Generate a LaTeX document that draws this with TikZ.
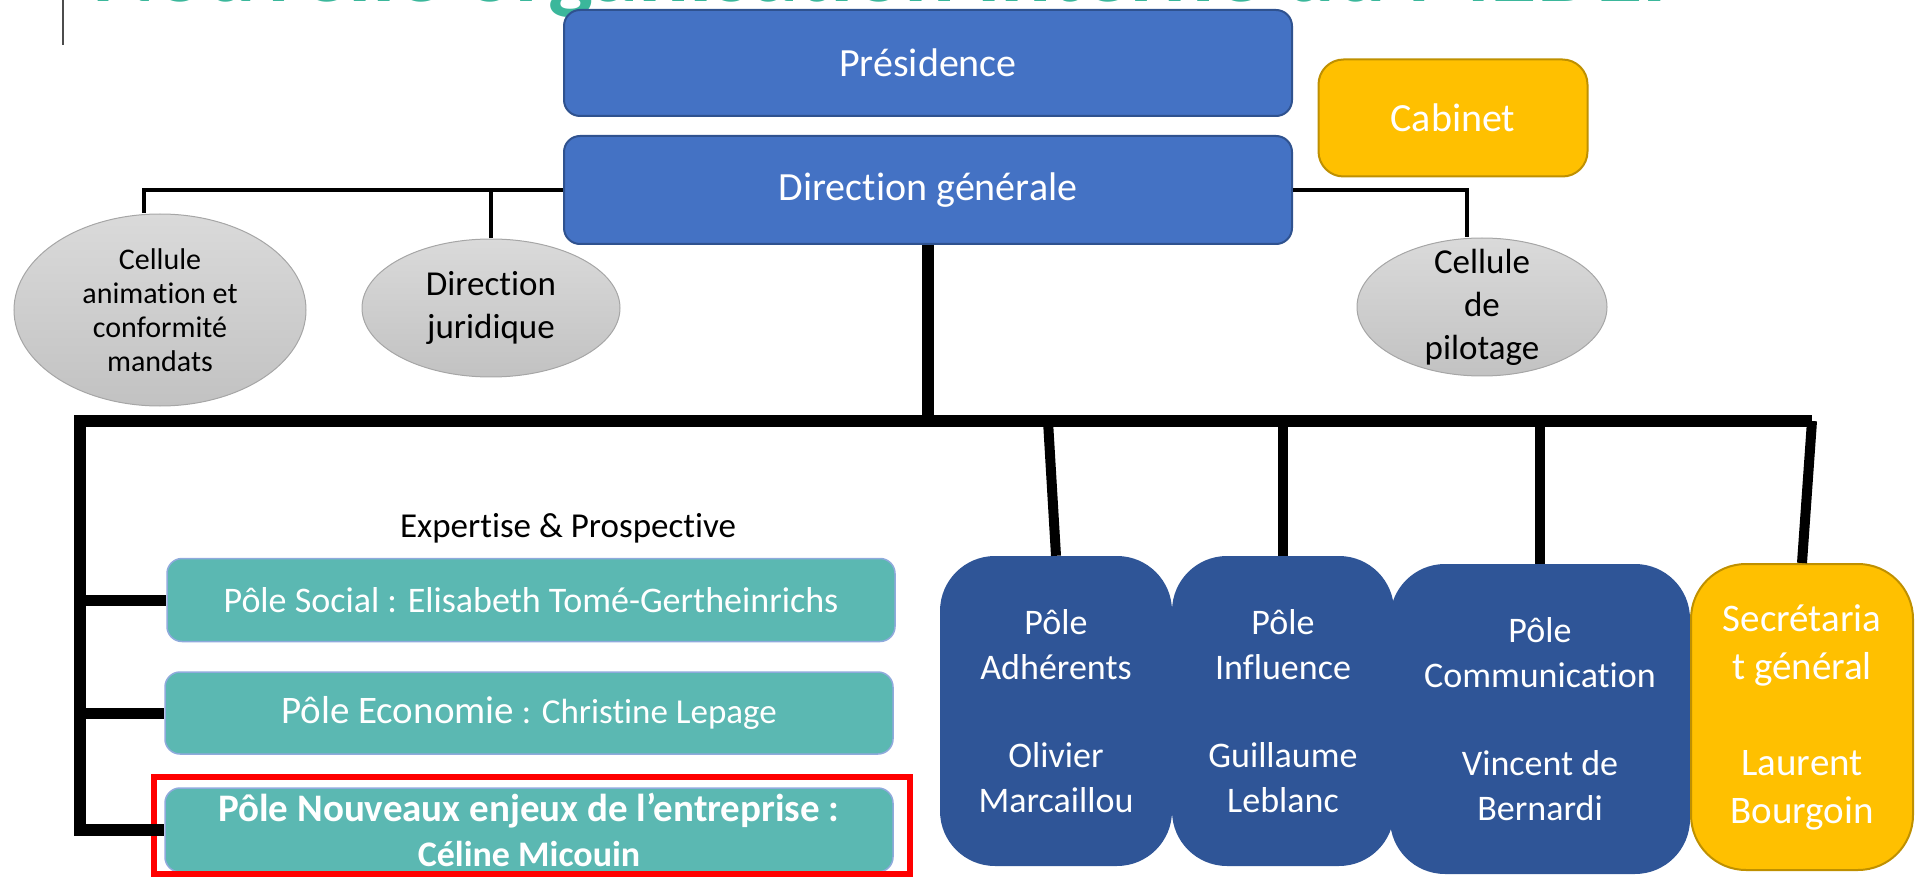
\documentclass[tikz,border=0pt]{standalone}
\usepackage{fontspec}
\setmainfont{Carlito}[Ligatures=NoCommon]
\usetikzlibrary{shapes.geometric}
\definecolor{headblue}{HTML}{4472C4}
\definecolor{headline}{HTML}{2F528F}
\definecolor{poleblue}{HTML}{2F5597}
\definecolor{goldfill}{HTML}{FFC000}
\definecolor{goldline}{HTML}{BF9000}
\definecolor{tealfill}{HTML}{5BB8B2}
\definecolor{tealline}{HTML}{8FAADC}
\definecolor{cellhi}{HTML}{DADADA}
\definecolor{celllo}{HTML}{C2C2C2}
\definecolor{cellline}{HTML}{A6A6A6}
\definecolor{titlegreen}{HTML}{3BB79B}
\tikzset{
  {head box/.style} ={rectangle, draw=headline, line width=2pt, fill=headblue,
                      rounded corners=16pt, text=white, inner sep=0,
                      minimum width=728pt, font=\fontsize{40}{48}\selectfont},
  {gold box/.style} ={rectangle, draw=goldline, line width=2pt, fill=goldfill,
                      text=white, inner sep=0, align=center},
  {cell/.style} ={ellipse, draw=cellline, line width=1pt, top color=cellhi,
                  bottom color=celllo, inner sep=0},
  {cell text/.style} ={align=center, text=black, inner sep=0},
  {expert box/.style} ={rectangle, draw=tealline, line width=1.5pt, fill=tealfill,
                  rounded corners=15pt, text=white, inner sep=0, align=center,
                  minimum width=728pt, font=\fontsize{36}{44}\selectfont},
  {pole box/.style} ={rectangle, fill=poleblue, rounded corners=55pt, text=white,
                  inner sep=0, align=center, font=\fontsize{36}{44.5}\selectfont},
  {thin link/.style} ={draw, line width=4.5pt},
  {bus/.style} ={draw, line width=12pt},
  {drop/.style} ={draw, line width=10pt},
  {stub/.style} ={draw, line width=11pt},
  {highlight/.style} ={draw=red, line width=6pt},
}

\begin{document}
\begin{tikzpicture}[x=1pt,y=-1pt]
\useasboundingbox (0,0) rectangle (1915,877);
\clip (0,0) rectangle (1915,877);
% slide title, cut by the top edge
\node[anchor=base west, inner sep=0, text=titlegreen,
      font=\bfseries\fontsize{95}{100}\selectfont] (title) at (92,1.5)
      {Nouvelle organisation interne du MEDEF};
\draw[line width=2pt, black!70] (63,0) -- (63,45);

% direction
\node[head box, minimum height=106pt] (pres) at (928,63) {Présidence};
\node[head box, minimum height=108pt] (dirgen) at (928,190) {Direction générale};
\node[gold box, rounded corners=25pt, minimum width=269pt, minimum height=117pt,
      font=\fontsize{40}{48}\selectfont] (cab) at (1453,118) {Cabinet};

% cells
\node[cell, minimum width=292pt, minimum height=192pt] (cellanim) at (160,310) {};
\node[cell text, font=\fontsize{30}{34}\selectfont] (cellanim-t) at (cellanim)
      {Cellule\\animation et\\conformité\\mandats};
\node[cell, minimum width=258pt, minimum height=138pt] (dirjur) at (491,308) {};
\node[cell text, font=\fontsize{35}{43}\selectfont] (dirjur-t) at (dirjur)
      {Direction\\juridique};
\node[cell, minimum width=250pt, minimum height=138pt] (cellpil) at (1482,307) {};
\node[cell text, font=\fontsize{35}{43}\selectfont] (cellpil-t) at (cellpil)
      {Cellule\\de\\pilotage};

% expertise
\node[inner sep=0, font=\fontsize{35}{42}\selectfont] (expert) at (568,528)
      {Expertise \& Prospective};
\node[expert box, minimum height=83pt] (social) at (531,600)
      {Pôle Social : Elisabeth Tomé-Gertheinrichs};
\node[expert box, minimum height=82pt, font=\fontsize{35}{42}\selectfont] (eco) at (529,713)
      {{\fontsize{39}{47}\selectfont Pôle Economie} : Christine Lepage};
\node[expert box, minimum height=84pt, font=\bfseries\fontsize{36}{45}\selectfont] (nouv) at (529,830)
      {{\fontsize{39}{45}\selectfont Pôle Nouveaux enjeux de l’entreprise :}\\Céline Micouin};
\draw[highlight] (154,777) rectangle (910,874);

% poles
\node[pole box, minimum width=232pt, minimum height=310pt] (adh) at (1056,711)
      {Pôle\\Adhérents\\[44pt]Olivier\\Marcaillou};
\node[pole box, minimum width=222pt, minimum height=310pt] (infl) at (1283,711)
      {Pôle\\Influence\\[44pt]Guillaume\\Leblanc};
\node[pole box, minimum width=300pt, minimum height=310pt] (comm) at (1540,719)
      {Pôle\\Communication\\[44pt]Vincent de\\Bernardi};
\node[gold box, rounded corners=55pt, minimum width=222pt, minimum height=306pt,
      font=\fontsize{39}{48}\selectfont] (secr) at (1802,717)
      {Secrétaria\\t général\\[48pt]Laurent\\Bourgoin};

% links
\draw[thin link] (dirgen.west) -| ([xshift=-16pt]cellanim.north);
\draw[thin link] (dirjur.north) -- (dirjur.north |- dirgen.west);
\draw[thin link] (dirgen.east) -| ([xshift=-15pt]cellpil.north);
\coordinate (busL) at (80,421);
\coordinate (busR) at (1812,421);
\draw[bus] (dirgen.south) -- (dirgen.south |- busL);
\draw[bus] (busR) -- (busL) -- (busL |- nouv.west) -- (nouv.west);
\draw[stub] (busL |- social.west) -- (social.west);
\draw[stub] (busL |- eco.west) -- (eco.west);
\draw[drop] ([xshift=-8pt]adh.north |- busL) -- (adh.north);
\draw[drop] (infl.north |- busL) -- (infl.north);
\draw[drop] (comm.north |- busL) -- (comm.north);
\draw[drop] (busR) -- (secr.north);
\end{tikzpicture}
\end{document}
